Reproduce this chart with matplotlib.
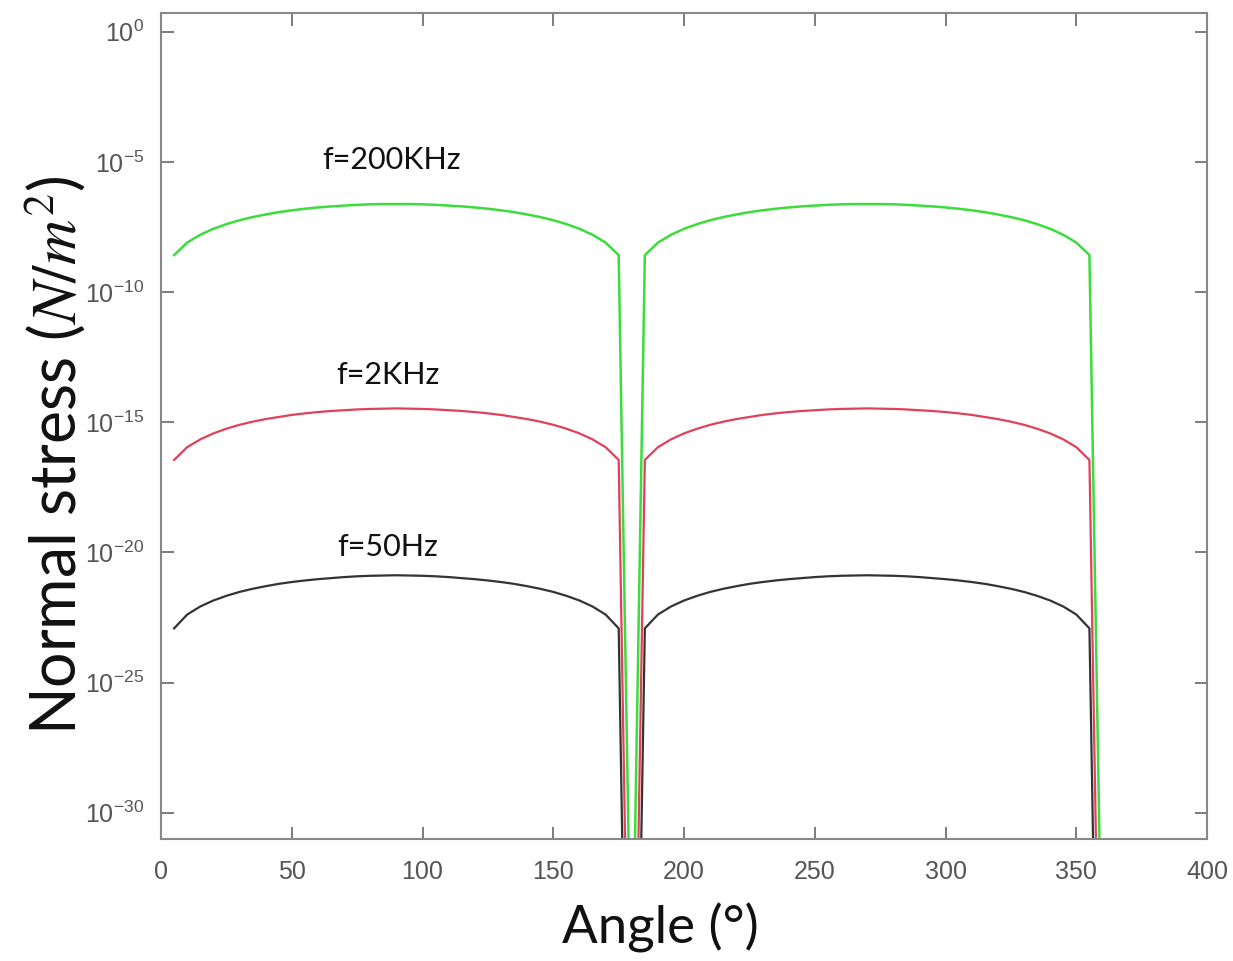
import numpy as np
import matplotlib
matplotlib.use("Agg")
import matplotlib.pyplot as plt
from matplotlib.ticker import FixedLocator, LogFormatterSciNotation, NullLocator

plt.rcParams['mathtext.fontset'] = 'stix'

# Angle samples (degrees); 0 deg value is exactly zero (not drawn on log axis)
angles = list(range(0, 365, 5))

# log10 of normal stress, one lobe per half turn
green_log = [None,
    -8.58, -8.10, -7.80, -7.57, -7.39, -7.24, -7.12, -7.02, -6.93, -6.86, -6.80, -6.75,
    -6.71, -6.68, -6.65, -6.63, -6.62, -6.62, -6.62, -6.63, -6.65, -6.68, -6.71, -6.75,
    -6.80, -6.86, -6.93, -7.02, -7.12, -7.24, -7.39, -7.57, -7.80, -8.10, -8.58,
    -38.4,
    -8.58, -8.10, -7.80, -7.57, -7.39, -7.24, -7.12, -7.02, -6.93, -6.86, -6.80, -6.75,
    -6.71, -6.68, -6.65, -6.63, -6.62, -6.62, -6.62, -6.63, -6.65, -6.68, -6.71, -6.75,
    -6.80, -6.86, -6.93, -7.02, -7.12, -7.24, -7.39, -7.57, -7.80, -8.10, -8.58,
    -37.8]
red_log = [None,
    -16.45, -15.96, -15.66, -15.43, -15.25, -15.10, -14.98, -14.88, -14.80, -14.72, -14.66, -14.61,
    -14.57, -14.54, -14.51, -14.49, -14.48, -14.47, -14.48, -14.49, -14.51, -14.54, -14.57, -14.61,
    -14.66, -14.72, -14.80, -14.88, -14.98, -15.10, -15.25, -15.43, -15.66, -15.96, -16.45,
    -46.3,
    -16.45, -15.96, -15.66, -15.43, -15.25, -15.10, -14.98, -14.88, -14.80, -14.72, -14.66, -14.61,
    -14.57, -14.54, -14.51, -14.49, -14.48, -14.47, -14.48, -14.49, -14.51, -14.54, -14.57, -14.61,
    -14.66, -14.72, -14.80, -14.88, -14.98, -15.10, -15.25, -15.43, -15.66, -15.96, -16.45,
    -45.7]
black_log = [None,
    -22.92, -22.39, -22.08, -21.85, -21.67, -21.52, -21.40, -21.30, -21.21, -21.14, -21.08, -21.03,
    -20.99, -20.95, -20.92, -20.90, -20.89, -20.88, -20.89, -20.90, -20.92, -20.95, -20.99, -21.03,
    -21.08, -21.14, -21.21, -21.30, -21.40, -21.52, -21.67, -21.85, -22.08, -22.39, -22.92,
    -52.7,
    -22.92, -22.39, -22.08, -21.85, -21.67, -21.52, -21.40, -21.30, -21.21, -21.14, -21.08, -21.03,
    -20.99, -20.95, -20.92, -20.90, -20.89, -20.88, -20.89, -20.90, -20.92, -20.95, -20.99, -21.03,
    -21.08, -21.14, -21.21, -21.30, -21.40, -21.52, -21.67, -21.85, -22.08, -22.39, -22.92,
    -52.1]

series_labels = ["f=200KHz", "f=2KHz", "f=50Hz"]
xticks = [0, 50, 100, 150, 200, 250, 300, 350, 400]
yticks_exp = [0, -5, -10, -15, -20, -25, -30]


def to_values(logs):
    return np.array([np.nan if v is None else 10.0 ** v for v in logs])


fig = plt.figure(figsize=(12.33, 9.61), dpi=100)
ax = fig.add_axes([0.1306, 0.127, 0.979 - 0.1306, 0.9862 - 0.127])

x = np.array(angles, dtype=float)
ax.plot(x, to_values(green_log), color="#3ddc3d", lw=1.8)
ax.plot(x, to_values(red_log), color="#e0405a", lw=1.6)
ax.plot(x, to_values(black_log), color="#333333", lw=1.6)

ax.set_yscale("log")
ax.set_xlim(0, 400)
ax.set_ylim(10 ** -31.01, 10 ** 0.71)
ax.xaxis.set_major_locator(FixedLocator(xticks))
ax.yaxis.set_major_locator(FixedLocator([10.0 ** e for e in yticks_exp]))
ax.yaxis.set_minor_locator(NullLocator())
ax.yaxis.set_major_formatter(LogFormatterSciNotation())

tick_col = "#555555"
ax.tick_params(axis="both", which="major", direction="in", length=9, width=1.2,
               color="#666666", labelcolor=tick_col, labelsize=18,
               top=True, right=True)
ax.tick_params(axis="x", pad=15)
ax.tick_params(axis="y", pad=12)
for lab in ax.get_xticklabels() + ax.get_yticklabels():
    lab.set_family(["Liberation Sans Narrow", "Liberation Sans", "DejaVu Sans"])
for s in ax.spines.values():
    s.set_color("#888888")
    s.set_linewidth(1.5)

lab_font = ["Lato", "DejaVu Sans"]
ax.text(88.3, 10 ** -4.93, series_labels[0], ha="center", va="center",
        fontsize=22, family=lab_font, color="#111111")
ax.text(86.8, 10 ** -13.19, series_labels[1], ha="center", va="center",
        fontsize=22, family=lab_font, color="#111111")
ax.text(86.8, 10 ** -19.79, series_labels[2], ha="center", va="center",
        fontsize=22, family=lab_font, color="#111111")

fig.text(55 / 1233, 1 - 455 / 961, r"Normal stress ($N/m^2$)", rotation=90,
         ha="center", va="center", fontsize=45, family=["Lato", "DejaVu Sans"],
         color="#111111")
fig.text(660 / 1233, 1 - 928 / 961, "Angle (°)", ha="center", va="center",
         fontsize=38, family=["Lato", "DejaVu Sans"], color="#111111")

fig.savefig("out.png", dpi=100)
